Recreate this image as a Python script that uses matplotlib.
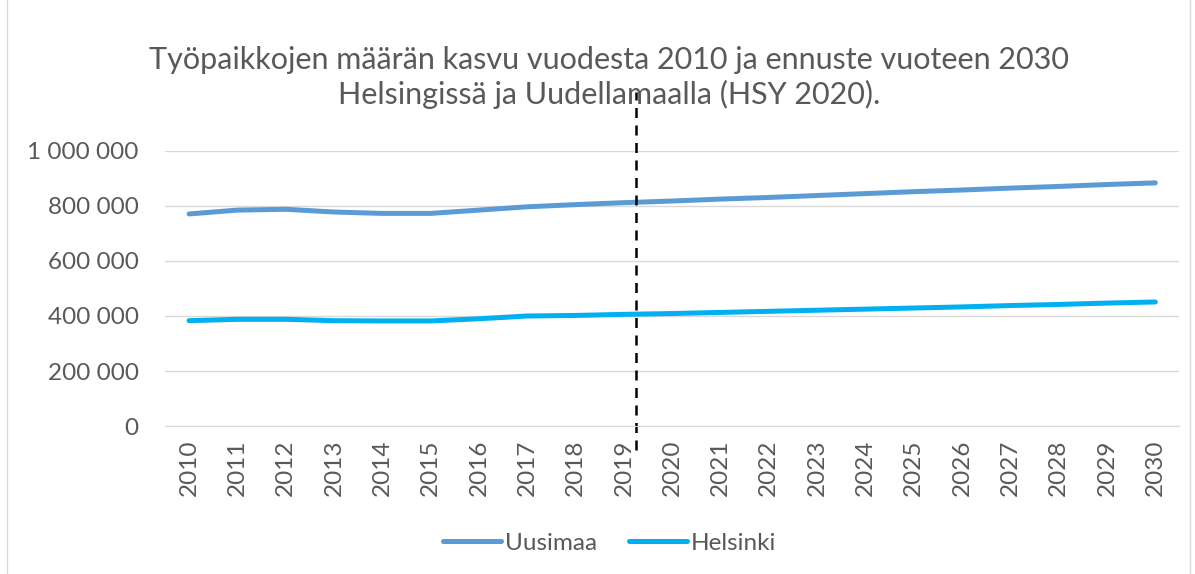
import numpy as np
from matplotlib import pyplot as plt
from matplotlib.ticker import FuncFormatter
from matplotlib.patches import Rectangle

years = list(range(2010, 2031))
uusimaa = [771000, 785000, 788000, 778000, 773000, 773000, 785000, 797000, 805000, 812000,
           818000, 825000, 831000, 838000, 845000, 852000, 858000, 865000, 871000, 878000, 884000]
helsinki = [383000, 388000, 388000, 383000, 382000, 382000, 390000, 400000, 402000, 406000,
            409000, 413000, 417000, 421000, 425000, 429000, 433000, 438000, 442000, 447000, 451000]
forecast_split = 9.25  # between 2019 and 2020

plt.rcParams['font.family'] = ['Lato', 'DejaVu Sans']
grey = '#595959'

fig = plt.figure(figsize=(11.95, 5.74), dpi=100)
fig.patches.append(Rectangle((0.006, -0.01), 0.99, 1.02, transform=fig.transFigure,
                             fill=False, edgecolor='#d9d9d9', linewidth=1))
ax = fig.add_axes([0.138, 0.2578, 0.849, 0.4792])

x = np.arange(len(years))
ax.plot(x, uusimaa, color='#5B9BD5', lw=3.6, solid_capstyle='round', label='Uusimaa')
ax.plot(x, helsinki, color='#00B0F0', lw=3.6, solid_capstyle='round', label='Helsinki')
ax.plot([forecast_split, forecast_split], [-87000, 1214000], color='black', lw=1.8,
        linestyle=(0, (4, 3)), clip_on=False)

ax.set_xlim(-0.5, len(years) - 0.5)
ax.set_ylim(0, 1000000)
ax.set_yticks(np.arange(0, 1000001, 200000))
ax.yaxis.set_major_formatter(FuncFormatter(lambda v, p: f'{int(v):,}'.replace(',', ' ')))
ax.set_xticks(x)
ax.set_xticklabels([str(y) for y in years], rotation=90)
ax.tick_params(axis='both', length=0, colors=grey, labelsize=17.5)
ax.tick_params(axis='y', pad=19)
ax.tick_params(axis='x', pad=10)
ax.grid(axis='y', color='#d9d9d9', lw=1)
ax.set_axisbelow(True)
for s in ['top', 'right', 'left']:
    ax.spines[s].set_visible(False)
ax.spines['bottom'].set_color('#d9d9d9')

fig.text(0.51, 0.865, 'Työpaikkojen määrän kasvu vuodesta 2010 ja ennuste vuoteen 2030\nHelsingissä ja Uudellamaalla (HSY 2020).',
         ha='center', va='center', fontsize=22, color=grey, linespacing=1.25)

fig.legend(loc='center', bbox_to_anchor=(0.51, 0.054), ncol=2, frameon=False,
           fontsize=17.5, labelcolor=grey, handlelength=2.4, handletextpad=0.15, columnspacing=1.3)

fig.savefig('out.png', dpi=100)
